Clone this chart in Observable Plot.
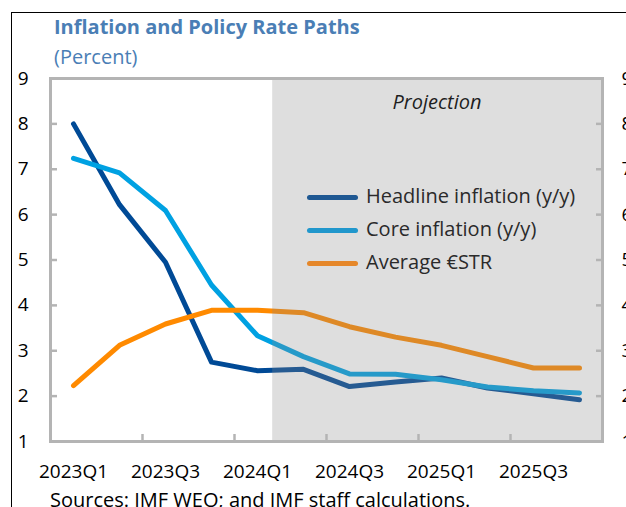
<!DOCTYPE html>
<html>
<head>
<meta charset="utf-8">
<script src="https://cdn.jsdelivr.net/npm/d3@7"></script>
<script src="https://cdn.jsdelivr.net/npm/@observablehq/plot@0.6"></script>
<style>
  html, body { margin: 0; padding: 0; background: #fff; overflow: hidden; width: 626px; height: 507px; }
  body { position: relative; font-family: "Open Sans", "Noto Sans", sans-serif; }
  #border { position: absolute; left: 11px; top: 12px; width: 800px; height: 600px;
            border-left: 1.5px solid #000; border-top: 1.5px solid #000; }
  .title { position: absolute; left: 54px; top: 17px; font-size: 20px; line-height: 20px; font-weight: 700; color: #4a7eb5; white-space: nowrap; }
  .subtitle { position: absolute; left: 54px; top: 47px; font-size: 20px; line-height: 20px; color: #4a7eb5; white-space: nowrap; }
  #chart { position: absolute; left: 0; top: 60px; width: 640px; }
  #chart svg { max-width: none !important; width: 640px; height: 430px; }
  .caption { position: absolute; left: 50px; top: 490px; font-size: 20px; line-height: 20px; color: #000; white-space: nowrap; }
  .legend { position: absolute; left: 307px; top: 180px; font-size: 20px; color: #2a2a2a; }
  .legend .row { position: absolute; left: 0; height: 34px; white-space: nowrap; }
  .legend .sw { position: absolute; left: 0; width: 51px; height: 5px; border-radius: 3px; }
  .legend .lb { position: absolute; left: 59px; line-height: 20px; }
  .proj { position: absolute; left: 437px; top: 92px; transform: translateX(-50%); font-size: 20px; line-height: 20px; font-style: italic; color: #1e1e1e; white-space: nowrap; }
</style>
</head>
<body>
<div id="border"></div>
<div class="title">Inflation and Policy Rate Paths</div>
<div class="subtitle">(Percent)</div>
<div id="chart"></div>
<div class="proj">Projection</div>
<div class="legend" id="legend"></div>
<div class="caption">Sources: IMF WEO; and IMF staff calculations.</div>
<script>
// ---- data ----
const quarters = ["2023Q1","2023Q2","2023Q3","2023Q4","2024Q1","2024Q2","2024Q3","2024Q4","2025Q1","2025Q2","2025Q3","2025Q4"];
const headline = [8.0, 6.22, 4.95, 2.75, 2.56, 2.59, 2.21, 2.31, 2.40, 2.18, 2.05, 1.92];
const core     = [7.24, 6.92, 6.09, 4.45, 3.33, 2.87, 2.49, 2.48, 2.36, 2.20, 2.12, 2.07];
const estr     = [2.23, 3.12, 3.59, 3.89, 3.89, 3.84, 3.53, 3.30, 3.12, 2.87, 2.62, 2.62];
const seriesNames = ["Headline inflation (y/y)", "Core inflation (y/y)", "Average €STR"];
const xTickLabels = ["2023Q1","2023Q3","2024Q1","2024Q3","2025Q1","2025Q3"];
const yTicks = [1,2,3,4,5,6,7,8,9];
const projectionStart = 4.33; // quarter index where projection shading begins

// ---- styles ----
const colors = ["#004a96", "#00a1e2", "#ff8a00"];
const shadedColors = ["#1f5892", "#2197cc", "#e5872a"];
const gridGray = "#b4b4b4";

const rows = [];
[headline, core, estr].forEach((vals, s) => {
  vals.forEach((v, i) => rows.push({series: seriesNames[s], i, q: quarters[i], v}));
});

const xLabelIdx = xTickLabels.map(l => quarters.indexOf(l));
const xTickIdx = xLabelIdx.slice(1).map(i => i - 0.5);

const plot = Plot.plot({
  width: 640,
  height: 430,
  marginTop: 18,
  marginLeft: 50,
  marginRight: 38,
  marginBottom: 49,
  style: {fontFamily: '"Open Sans", "Noto Sans", sans-serif', fontSize: "19px", color: "#000", background: "transparent"},
  x: {domain: [-0.5, quarters.length - 0.5], axis: null},
  y: {domain: [1, 9], axis: null},
  color: {domain: seriesNames, range: colors},
  marks: [
    Plot.line(rows, {x: "i", y: "v", z: "series", stroke: "series", strokeWidth: 5, strokeLinecap: "round", strokeLinejoin: "round"}),
    Plot.rect([0], {x1: projectionStart, x2: quarters.length - 0.5, y1: 1, y2: 9, fill: "#8a8a8a", fillOpacity: 0.28}),
    // inner ticks
    Plot.axisY(yTicks, {anchor: "left", label: null, tickSize: 7, dx: 7, stroke: gridGray, strokeWidth: 2.5, tickFormat: () => ""}),
    Plot.axisY(yTicks, {anchor: "right", label: null, tickSize: 7, dx: -7, stroke: gridGray, strokeWidth: 2.5, tickFormat: () => ""}),
    Plot.axisX(xTickIdx, {anchor: "bottom", label: null, tickSize: 7, dy: -7, stroke: gridGray, strokeWidth: 2.5, tickFormat: () => ""}),
    // labels
    Plot.axisY(yTicks, {anchor: "left", label: null, tickSize: 0, tickPadding: 22, tickFormat: d => String(d), fill: "#000"}),
    Plot.axisY(yTicks, {anchor: "right", label: null, tickSize: 0, tickPadding: 19, tickFormat: d => String(d), fill: "#000"}),
    Plot.axisX(xLabelIdx, {anchor: "bottom", label: null, tickSize: 0, tickPadding: 23, tickFormat: d => quarters[d], fill: "#000"}),
    Plot.frame({stroke: gridGray, strokeWidth: 3})
  ]
});
document.getElementById("chart").appendChild(plot);

// legend (sits under the projection shading, so colors are the shaded tones)
const legend = document.getElementById("legend");
seriesNames.forEach((name, k) => {
  const row = document.createElement("div");
  row.className = "row";
  row.style.top = (k * 33) + "px";
  const sw = document.createElement("div");
  sw.className = "sw";
  sw.style.background = shadedColors[k];
  sw.style.top = "15px";
  const lb = document.createElement("div");
  lb.className = "lb";
  lb.style.top = "6px";
  lb.textContent = name;
  row.appendChild(sw); row.appendChild(lb);
  legend.appendChild(row);
});
</script>
</body>
</html>
